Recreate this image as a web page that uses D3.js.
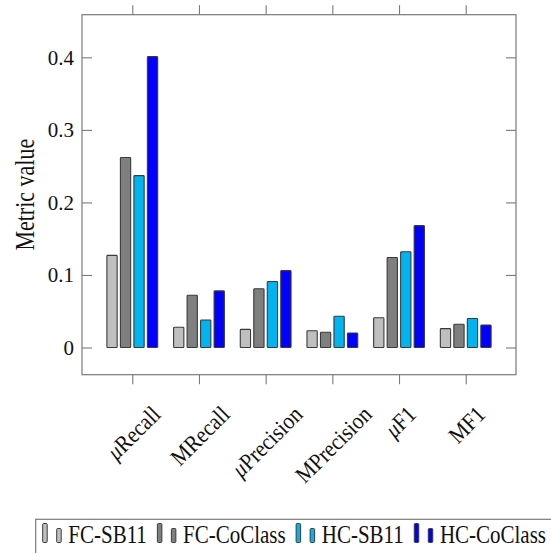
<!DOCTYPE html>
<html>
<head>
<meta charset="utf-8">
<script src="https://cdn.jsdelivr.net/npm/d3@7"></script>
<style>
  html, body { margin: 0; padding: 0; background: #fff; overflow: hidden; }
</style>
</head>
<body>
<div id="chart"></div>
<script>
// values
const categories = ['μRecall', 'MRecall', 'μPrecision', 'MPrecision', 'μF1', 'MF1']
const seriesNames = ['FC-SB11', 'FC-CoClass', 'HC-SB11', 'HC-CoClass']
const fcSb11    = [0.127, 0.028, 0.025, 0.023, 0.041, 0.026]
const fcCoClass = [0.262, 0.072, 0.081, 0.021, 0.124, 0.032]
const hcSb11    = [0.237, 0.038, 0.091, 0.043, 0.132, 0.040]
const hcCoClass = [0.401, 0.078, 0.106, 0.020, 0.168, 0.031]
const yTicks = [0, 0.1, 0.2, 0.3, 0.4]
const seriesColors = ['#bfbfbf', '#7f7f7f', '#00b4ef', '#0000ff']

const SERIF = '"Liberation Serif", "Times New Roman", serif'

class GroupedBars {

  constructor(_parentElement) {
    this.parentElement = _parentElement
    this.initVis()
  }

  initVis() {
    const vis = this
    vis.WIDTH = 551
    vis.HEIGHT = 553
    vis.frame = { left: 82, right: 516, top: 14.7, bottom: 374.7 }

    vis.svg = d3.select(vis.parentElement).append('svg')
        .attr('width', vis.WIDTH)
        .attr('height', vis.HEIGHT)

    vis.x = d3.scalePoint()
        .domain(categories)
        .range([vis.frame.left, vis.frame.right])
        .padding(0.754)

    vis.xInner = d3.scaleBand()
        .domain(seriesNames)
        .range([-27, 27])
        .paddingInner(0.24)
        .paddingOuter(0.12)

    vis.y = d3.scaleLinear()
        .domain([-0.0375, 0.4588])
        .range([vis.frame.bottom, vis.frame.top])

    vis.wrangleData()
  }

  wrangleData() {
    const vis = this
    const cols = [fcSb11, fcCoClass, hcSb11, hcCoClass]
    vis.data = []
    categories.forEach((c, i) => {
      seriesNames.forEach((s, k) => {
        vis.data.push({ cat: c, series: s, value: cols[k][i], fill: seriesColors[k] })
      })
    })
    vis.updateVis()
  }

  updateVis() {
    const vis = this
    const f = vis.frame

    // bars
    vis.svg.append('g').selectAll('rect')
        .data(vis.data)
        .join('rect')
          .attr('x', d => vis.x(d.cat) + vis.xInner(d.series))
          .attr('y', d => vis.y(d.value))
          .attr('width', vis.xInner.bandwidth())
          .attr('height', d => vis.y(0) - vis.y(d.value))
          .attr('rx', 0.8)
          .style('fill', d => d.fill)
          .style('stroke', '#3a3a3a')
          .style('stroke-width', 1.1)

    // frame
    vis.svg.append('rect')
        .attr('x', f.left).attr('y', f.top)
        .attr('width', f.right - f.left).attr('height', f.bottom - f.top)
        .style('fill', 'none').style('stroke', '#7a7a7a').style('stroke-width', 1.2)

    // y axis: ticks inside on both sides
    const yAxisL = d3.axisLeft(vis.y).tickValues(yTicks).tickSizeInner(-10).tickSizeOuter(0)
        .tickPadding(8).tickFormat(d => d === 0 ? '0' : d3.format('.1f')(d))
    const gl = vis.svg.append('g').attr('transform', `translate(${f.left},0)`).call(yAxisL)
    gl.select('.domain').remove()
    gl.selectAll('line').style('stroke', '#7a7a7a').style('stroke-width', 1.1)
    gl.selectAll('text')
        .style('font-family', SERIF)
        .style('font-size', '21px')
        .style('fill', '#111')

    const yAxisR = d3.axisRight(vis.y).tickValues(yTicks).tickSizeInner(-10).tickSizeOuter(0).tickFormat('')
    const gr = vis.svg.append('g').attr('transform', `translate(${f.right},0)`).call(yAxisR)
    gr.select('.domain').remove()
    gr.selectAll('line').style('stroke', '#7a7a7a').style('stroke-width', 1.1)

    // x axis: ticks outside, top and bottom
    const xb = vis.svg.append('g').attr('transform', `translate(0,${f.bottom})`)
        .call(d3.axisBottom(vis.x).tickSizeInner(9.5).tickSizeOuter(0).tickFormat(''))
    const xt = vis.svg.append('g').attr('transform', `translate(0,${f.top})`)
        .call(d3.axisTop(vis.x).tickSizeInner(9.5).tickSizeOuter(0).tickFormat(''))
    xb.select('.domain').remove()
    xt.select('.domain').remove()
    vis.svg.selectAll('.tick line').style('stroke', '#7a7a7a').style('stroke-width', 1.1)

    // rotated category labels, bounding box top at y=401, centred on tick
    categories.forEach(c => {
      const g = vis.svg.append('g').attr('transform', `translate(${vis.x(c) + 1},400)`)
      const t = g.append('text')
          .attr('transform', 'rotate(-45) scale(1,1.12)')
          .attr('text-anchor', 'middle')
          .style('font-family', SERIF)
          .style('font-size', '21px')
          .style('fill', '#111')
      if (c.startsWith('μ')) {
        t.append('tspan').style('font-style', 'italic').text('μ')
        t.append('tspan').text(c.slice(1))
      } else {
        t.text(c)
      }
      const box = g.node().getBBox()
      const cx = box.x + box.width / 2
      g.attr('transform', `translate(${vis.x(c) + 1 - cx},${401 - box.y})`)
    })

    // y label
    vis.svg.append('text')
        .attr('transform', `translate(25,${(f.top + f.bottom) / 2}) rotate(-90) scale(1,1.2)`)
        .attr('text-anchor', 'middle')
        .attr('dy', '0.35em')
        .style('font-family', SERIF)
        .style('font-size', '22px')
        .style('fill', '#111')
        .text('Metric value')

    // legend
    const lg = vis.svg.append('g')
    lg.append('rect')
        .attr('x', 35.7).attr('y', 519.3)
        .attr('width', 540).attr('height', 60)
        .style('fill', '#fff').style('stroke', '#7a7a7a').style('stroke-width', 1.2)

    let lx = 42.7
    seriesNames.forEach((s, k) => {
      lg.append('rect')
          .attr('x', lx).attr('y', 523.5).attr('width', 4.5).attr('height', 19)
          .attr('rx', 1)
          .style('fill', seriesColors[k]).style('stroke', '#3a3a3a').style('stroke-width', 1)
      lg.append('rect')
          .attr('x', lx + 14).attr('y', 528.5).attr('width', 4.5).attr('height', 14)
          .attr('rx', 1)
          .style('fill', seriesColors[k]).style('stroke', '#3a3a3a').style('stroke-width', 1)
      const txt = lg.append('text')
          .attr('transform', `translate(${lx + 25.6},542.7) scale(1,1.2)`)
          .style('font-family', SERIF)
          .style('font-size', '21px')
          .style('fill', '#111')
          .text(s)
      lx += 25.6 + txt.node().getComputedTextLength() + 10.5
    })
  }
}

new GroupedBars('#chart')
</script>
</body>
</html>
